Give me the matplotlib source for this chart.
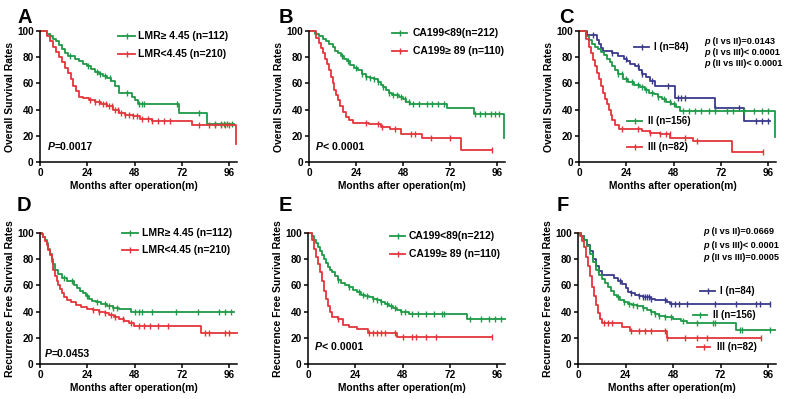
import numpy as np
import matplotlib.pyplot as plt
from matplotlib.lines import Line2D

plt.rcParams['font.family'] = ['Liberation Sans', 'DejaVu Sans']
plt.rcParams['font.weight'] = 'bold'

W, H = 785, 399
GREEN = '#1f9a48'
RED = '#e3363a'
PURPLE = '#3a398c'

# ---- A: overall survival by LMR
a_hi_t = [0, 3.5, 5, 6.5, 8, 9.5, 11, 12.5, 14, 18, 20, 22, 24, 26, 28, 30, 32, 34, 36, 38, 40, 46.5, 48, 49.5, 70.5, 85, 98.5]
a_hi_s = [100, 98, 96, 94, 92, 89, 86, 83, 81, 79, 77, 75, 73, 71, 69, 67.5, 66, 64, 62, 58, 53, 50, 47, 44, 37.5, 29, 29]
a_hi_c = [5, 15, 24.5, 29, 30.5, 33, 35.5, 44, 50, 52, 53, 69.5, 80.5, 89, 92, 93.5, 95, 97.5]
a_lo_t = [0, 3.5, 5, 6.5, 8, 9.5, 11, 12.5, 14, 15.5, 17, 18.5, 20, 22, 25, 28, 31, 34, 37, 40, 43, 47, 51, 57, 77, 99.5]
a_lo_s = [100, 96, 92, 88, 84, 80, 76, 72, 68, 63, 58, 54, 50, 48.5, 47, 45.5, 44, 42.5, 40, 37.5, 36, 35, 33, 31.5, 28, 14]
a_lo_c = [25.5, 28, 30, 32, 33.5, 35, 36.5, 38, 39.5, 41, 43, 45, 47, 49, 52, 55, 57, 60, 63, 66, 80.5, 86, 89, 92, 94, 96]

# ---- B: overall survival by CA199
b_lo_t = [0, 3, 5, 7, 8.5, 10, 12, 13.5, 15, 16.5, 18, 19.5, 21, 23, 25, 27, 29, 31, 33, 35, 36.5, 38, 39.5, 41, 42.5, 46, 48, 49.5, 51.5, 70.5, 84, 99.4]
b_lo_s = [100, 98, 96, 94, 92, 90, 88, 85, 83, 81, 79, 77, 74, 72, 70, 67, 65, 64, 63, 61, 59, 57, 55, 53, 51, 50, 48, 46, 44.5, 41, 37, 18]
b_lo_c = [17, 20, 24, 27, 29, 31, 33, 35, 38, 41, 43, 45, 47, 49, 51, 53, 56, 60, 63, 66, 69, 84.5, 87, 90, 93, 95, 97]
b_hi_t = [0, 3.5, 5, 6, 7, 8, 9, 10, 11, 12, 13, 14, 15, 16, 17.5, 19, 20.5, 22.5, 30.5, 36.5, 41.5, 47, 57.5, 77.5, 93.5]
b_hi_s = [100, 95, 91, 87, 83, 79, 75, 70, 65, 60, 55, 51, 47, 43, 38, 34, 32, 30, 29, 27, 25.5, 21.5, 18, 9, 9]
b_hi_c = [29, 35, 37, 44, 52, 54, 62, 72, 93.5]

# ---- C: overall survival by stage
c1_t = [0, 4, 9, 10, 11, 12, 16.5, 20, 23, 24.5, 26, 28.5, 30.5, 32, 34, 36, 38.5, 48.8, 69, 84, 97]
c1_s = [100, 97, 93, 90, 87, 85, 83, 81, 79, 77, 75, 73, 70, 67, 65, 62, 58, 49, 41, 31, 31]
c1_c = [7, 17, 24, 30, 32, 37, 45, 50, 52, 54, 69, 81, 90, 93, 96]
c2_t = [0, 3.5, 5, 6.5, 8, 9.5, 11, 12.5, 14, 15.5, 17, 18.5, 20, 22.5, 25, 28, 31, 33.5, 35.5, 38, 40, 42, 44, 46.5, 49, 51.5, 99.4]
c2_s = [100, 96, 93, 90, 88, 86, 84, 82, 79, 76, 73, 70, 67, 63, 61, 59, 57, 55, 53, 52, 50, 48, 46, 44, 42, 39, 19]
c2_c = [20, 22, 24, 27, 30, 32, 34, 37, 40, 43, 46, 48, 53, 56, 59, 62, 66, 69, 75, 78, 84, 89, 93, 96]
c3_t = [0, 3.5, 5, 6, 7, 8, 9, 10, 11, 12, 13, 14, 15, 16, 17, 18.5, 20.5, 32, 36, 41, 46.3, 58, 77.5, 93.5]
c3_s = [100, 94, 88, 83, 78, 73, 68, 63, 58, 53, 48, 44, 40, 36, 32, 28, 25, 23.5, 22, 21, 18.5, 16, 8, 8]
c3_c = [22, 30, 36, 41, 44, 46, 54, 60, 93.5]

# ---- D: recurrence free survival by LMR
d_hi_t = [0, 0.8, 1.7, 2.5, 3.4, 4.2, 5, 5.9, 6.8, 7.6, 9, 11, 13.5, 17.5, 19, 20.5, 22, 23.5, 25, 26.5, 28.5, 31, 34, 37, 40, 46, 98.5]
d_hi_s = [100, 99, 97, 95, 92, 88, 84, 80, 76, 72, 69, 66, 63, 60, 58, 56, 54, 52, 50, 48, 47, 46, 44.5, 43, 42, 40, 40]
d_hi_c = [12, 16, 24, 29, 33, 35, 37, 39, 48, 50, 52, 57, 69, 80, 91, 94, 97]
d_lo_t = [0, 0.8, 1.7, 2.5, 3.4, 4.2, 5, 5.9, 6.8, 7.6, 8.5, 9.3, 10.2, 11, 12, 13.5, 15.5, 18.5, 21, 24, 27, 30, 33, 35, 37.5, 40, 42.5, 45, 47.5, 81.5, 100]
d_lo_s = [100, 99, 97, 94, 91, 87, 83, 78, 72, 67, 63, 60, 57, 54, 51, 49, 47, 45, 43.5, 42, 41, 40, 39, 37.5, 35.5, 34, 32.5, 31, 29, 24, 24]
d_lo_c = [27, 30, 33, 36, 38, 42, 46, 50, 53, 56, 60, 65, 84, 86, 94, 96]

# ---- E: recurrence free survival by CA199
e_lo_t = [0, 2, 3, 4, 5, 6, 7, 8, 9, 10, 11, 12, 13.5, 15, 17, 19, 21, 23, 25, 27, 29, 31, 33, 35, 37, 39, 41, 43, 45, 47, 51.5, 80.8, 100]
e_lo_s = [100, 98, 95, 92, 89, 86, 83, 80, 77, 74, 72, 70, 67, 64, 62, 60, 58.5, 56.5, 55, 53, 52, 51, 50, 49, 47.5, 46, 44, 42.5, 41.5, 40, 38, 34, 34]
e_lo_c = [15, 21, 26, 28, 30, 33, 35, 37, 40, 42, 44, 47, 49, 53, 56, 60, 64, 68, 69, 82, 88, 92, 95, 98]
e_hi_t = [0, 2, 3, 4, 5, 6, 7, 8, 9, 10, 11, 12, 15, 18, 21, 25, 30.5, 45.2, 93.5]
e_hi_s = [100, 95, 88, 82, 76, 70, 63, 56, 50, 44, 40, 36, 34.5, 30, 28.5, 27, 24, 20.5, 20.5]
e_hi_c = [15, 31, 33, 35, 37, 39, 44, 48, 53, 55, 60, 65, 93.5]

# ---- F: recurrence free survival by stage
f1_t = [0, 1.5, 3, 4.5, 6, 7.5, 9, 10.5, 12, 18, 20, 22, 24, 25.5, 27, 29, 31, 33, 37, 39, 44.8, 46.5, 97]
f1_s = [100, 98, 95, 91, 86, 80, 75, 71, 68, 66, 63, 61, 58, 55, 54, 53, 52, 51, 50, 48.5, 47, 45.5, 45.5]
f1_c = [21, 27, 31, 33, 34, 35, 36, 37, 44, 47, 49, 51, 55, 69, 80, 90, 92, 97]
f2_t = [0, 1.5, 3, 4.5, 6, 7.5, 9, 10.5, 12, 13.5, 15, 16.5, 18, 19.5, 21, 23, 25, 27.5, 30, 33, 35, 37, 39, 41, 44, 48, 52, 55, 80, 99.4]
f2_s = [100, 98, 95, 90, 84, 78, 72, 68, 65, 62, 59, 56, 53, 51, 49, 47, 46, 45, 44, 43, 41.5, 40, 38.5, 37, 35.5, 34, 32.5, 31, 26, 26]
f2_c = [10, 20, 23, 26, 28, 30, 33, 37, 39, 41, 44, 47, 53, 60, 68, 69, 82, 83, 97]
f3_t = [0, 1, 2, 3, 4, 5, 6, 7, 8, 9, 10, 11, 12, 22, 26.3, 44.8, 92.6]
f3_s = [100, 98, 94, 89, 82, 75, 67, 59, 52, 45, 39, 34, 31, 28.5, 25, 20, 20]
f3_c = [13, 15, 17, 27, 31, 34, 37, 44, 45, 54, 60, 65, 92.6]

fig = plt.figure(figsize=(W / 100, H / 100), dpi=100)
renderer = fig.canvas.get_renderer()


def fx(x):
    return x / W


def fy(y):
    return 1 - y / H


def km(ax, t, s, cens, color):
    t = np.asarray(t, float)
    s = np.asarray(s, float)
    ax.step(t, s, where='post', color=color, lw=1.3, clip_on=False)
    c = np.asarray(cens, float)
    cs = s[np.searchsorted(t, c, side='right') - 1]
    ax.plot(c, cs, ls='none', marker='|', ms=4, mew=1.0, color=color, clip_on=False)


def frame(rect, ylabel, letter, letter_xy):
    l, t, r, b = rect
    ax = fig.add_axes([fx(l), fy(b), (r - l) / W, (b - t) / H])
    ax.set_xlim(0, 100)
    ax.set_ylim(0, 100)
    ax.set_xticks([0, 24, 48, 72, 96])
    ax.set_yticks([0, 20, 40, 60, 80, 100])
    ax.spines[['top', 'right']].set_visible(False)
    for sp in ['left', 'bottom']:
        ax.spines[sp].set_linewidth(1.1)
    ax.tick_params(direction='out', length=3, width=1.1, pad=1.5, labelsize=7.2)
    for lab in ax.get_xticklabels() + ax.get_yticklabels():
        lab.set_fontweight('bold')
    ax.set_xlabel('Months after operation(m)', fontsize=7.4, fontweight='bold', va='top')
    ax.xaxis.set_label_coords(0.475, -0.145)
    ax.set_ylabel(ylabel, fontsize=7.5, fontweight='bold')
    ax.yaxis.set_label_coords(-0.125, 0.5)
    fig.text(fx(letter_xy[0]), fy(letter_xy[1]), letter, fontsize=14.5, fontweight='bold', va='top')
    return ax


def legend_entry(x0, x1, xt, y, color, label, size=7.5):
    fig.add_artist(Line2D([fx(x0), fx(x1)], [fy(y), fy(y)], color=color, lw=1.3))
    fig.add_artist(Line2D([fx((x0 + x1) / 2)], [fy(y)], color=color, marker='|', ms=4, mew=1.0))
    fig.text(fx(xt), fy(y), label, fontsize=size, fontweight='bold', va='center')


def italic_text(x, y, head, tail, size):
    t1 = fig.text(fx(x), fy(y), head, fontsize=size, fontweight='bold', style='italic', va='center')
    bb = t1.get_window_extent(renderer)
    fig.text(bb.x1 / W, fy(y), tail, fontsize=size, fontweight='bold', va='center')


OS = 'Overall Survival Rates'
RFS = 'Recurrence Free Survival Rates'

axA = frame((40, 31, 237, 162), OS, 'A', (17, 8))
km(axA, a_hi_t, a_hi_s, a_hi_c, GREEN)
km(axA, a_lo_t, a_lo_s, a_lo_c, RED)
legend_entry(118, 135, 138, 36, GREEN, 'LMR\u2265 4.45 (n=112)')
legend_entry(118, 135, 138, 54, RED, 'LMR<4.45 (n=210)')
italic_text(48, 146.5, 'P', '=0.0017', 7.6)

axB = frame((309, 31, 505, 162), OS, 'B', (279, 8))
km(axB, b_lo_t, b_lo_s, b_lo_c, GREEN)
km(axB, b_hi_t, b_hi_s, b_hi_c, RED)
legend_entry(392, 407, 413, 32.5, GREEN, 'CA199<89(n=212)')
legend_entry(392, 407, 413, 51, RED, 'CA199\u2265 89 (n=110)')
italic_text(316, 146.5, 'P', '< 0.0001', 7.6)

axC = frame((579, 31, 776, 162), OS, 'C', (559, 8))
km(axC, c1_t, c1_s, c1_c, PURPLE)
km(axC, c2_t, c2_s, c2_c, GREEN)
km(axC, c3_t, c3_s, c3_c, RED)
legend_entry(634, 649, 654, 46.5, PURPLE, 'I (n=84)', 7)
legend_entry(627, 642, 648, 120.5, GREEN, 'II (n=156)', 7)
legend_entry(627, 642, 648, 147, RED, 'III (n=82)', 7)
italic_text(704, 41.5, 'p', ' (I vs II)=0.0143', 6.6)
italic_text(704, 52.5, 'p', ' (I vs III)< 0.0001', 6.6)
italic_text(704, 63.5, 'p', ' (II vs III)< 0.0001', 6.6)

axD = frame((40, 233, 237, 364), RFS, 'D', (17, 196))
km(axD, d_hi_t, d_hi_s, d_hi_c, GREEN)
km(axD, d_lo_t, d_lo_s, d_lo_c, RED)
legend_entry(122, 138, 142, 232.5, GREEN, 'LMR\u2265 4.45 (n=112)')
legend_entry(122, 138, 142, 250, RED, 'LMR<4.45 (n=210)')
italic_text(45, 354, 'P', '=0.0453', 7.6)

axE = frame((308, 233, 505, 364), RFS, 'E', (279, 196))
km(axE, e_lo_t, e_lo_s, e_lo_c, GREEN)
km(axE, e_hi_t, e_hi_s, e_hi_c, RED)
legend_entry(390, 405, 409, 236, GREEN, 'CA199<89(n=212)')
legend_entry(390, 405, 409, 254, RED, 'CA199\u2265 89 (n=110)')
italic_text(315, 347, 'P', '< 0.0001', 7.6)

axF = frame((578, 233, 776, 364), RFS, 'F', (557, 196))
km(axF, f1_t, f1_s, f1_c, PURPLE)
km(axF, f2_t, f2_s, f2_c, GREEN)
km(axF, f3_t, f3_s, f3_c, RED)
legend_entry(700, 715, 720, 291, PURPLE, 'I (n=84)', 7)
legend_entry(693, 707, 713, 314.5, GREEN, 'II (n=156)', 7)
legend_entry(697, 710, 717, 346.5, RED, 'III (n=82)', 7)
italic_text(703, 232, 'p', ' (I vs II)=0.0669', 6.6)
italic_text(703, 245, 'p', ' (I vs III)< 0.0001', 6.6)
italic_text(703, 257.5, 'p', ' (II vs III)=0.0005', 6.6)

fig.savefig('out.png', dpi=100)
